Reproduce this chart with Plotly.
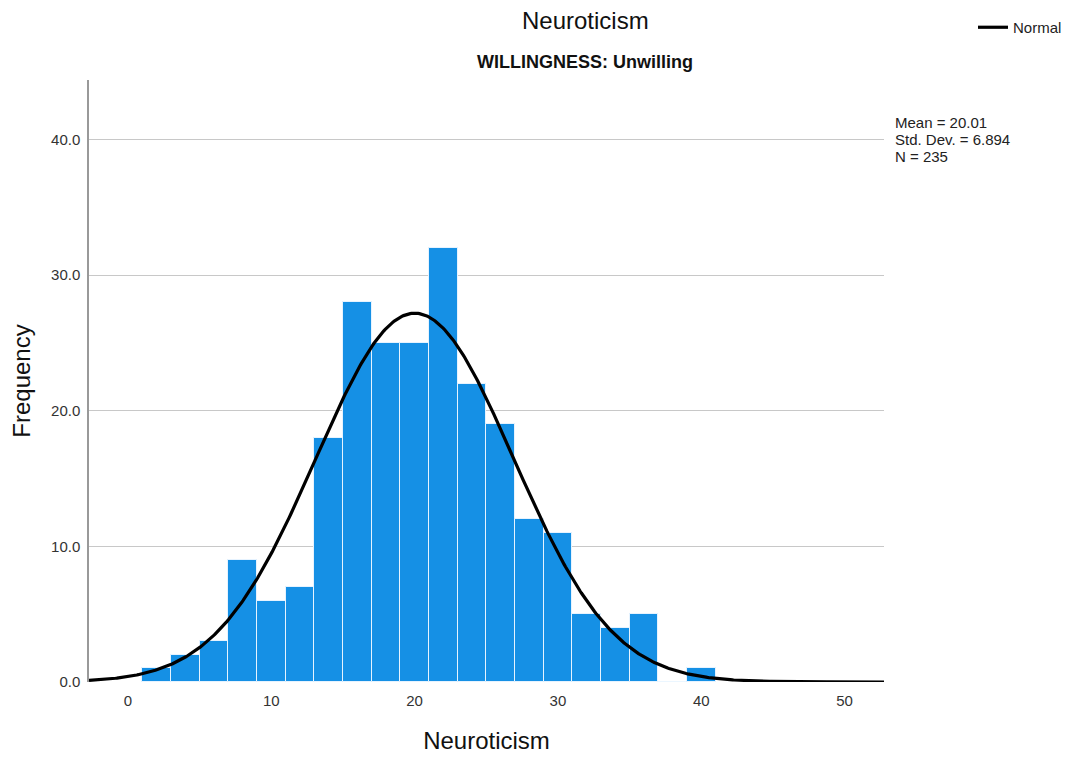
import numpy as np
import plotly.graph_objects as go

# Histogram data (bin width 2, bins start at 1)
bin_starts = [1, 3, 5, 7, 9, 11, 13, 15, 17, 19, 21, 23, 25, 27, 29, 31, 33, 35, 37, 39]
counts = [1, 2, 3, 9, 6, 7, 18, 28, 25, 25, 32, 22, 19, 12, 11, 5, 4, 5, 0, 1]
bin_width = 2

# Summary statistics
mean_val = 20.01
sd_val = 6.894
n_val = 235

x_ticks = [0, 10, 20, 30, 40, 50]
y_ticks = [0, 10, 20, 30, 40]
x_range = [-2.72, 52.75]
y_range = [0, 44.4]

centers = [s + bin_width / 2 for s in bin_starts]

xs = np.linspace(x_range[0], x_range[1], 600)
ys = n_val * bin_width / (sd_val * np.sqrt(2 * np.pi)) * np.exp(-0.5 * ((xs - mean_val) / sd_val) ** 2)

fig = go.Figure()
fig.add_trace(go.Bar(
    x=centers, y=counts, width=bin_width,
    marker=dict(color="#1590E5", line=dict(color="rgba(235,245,255,0.95)", width=1)),
    showlegend=False, name="Frequency",
))
fig.add_trace(go.Scatter(
    x=xs, y=ys, mode="lines", name="Normal",
    line=dict(color="black", width=3.2),
))

FONT = "Liberation Sans, Arial, sans-serif"
L, R, T, B = 89, 884, 80, 682
PW, PH = R - L, B - T


def px(x):
    return (x - L) / PW


def py(y):
    return (B - y) / PH


stats_lines = [f"Mean = {mean_val:.2f}", f"Std. Dev. = {sd_val:.3f}", f"N = {n_val}"]
stats_y = [122, 139, 156]

annotations = [
    dict(text="Neuroticism", x=px(585), y=py(20), xref="paper", yref="paper", showarrow=False,
         xanchor="center", yanchor="middle", font=dict(size=24, color="#111")),
    dict(text="<b>WILLINGNESS: Unwilling</b>", x=px(585), y=py(62), xref="paper", yref="paper",
         xanchor="center", yanchor="middle", showarrow=False, font=dict(size=18, color="#111")),
]
for txt, yy in zip(stats_lines, stats_y):
    annotations.append(dict(text=txt, x=px(893), y=py(yy), xref="paper", yref="paper",
                            xanchor="left", yanchor="middle", showarrow=False,
                            font=dict(size=15, color="#222")))

fig.update_layout(
    width=1070, height=766,
    margin=dict(l=L, r=1070 - R, t=T, b=766 - B, autoexpand=False),
    paper_bgcolor="white", plot_bgcolor="white",
    font=dict(family=FONT, color="#222"),
    bargap=0,
    showlegend=True,
    legend=dict(
        x=px(973), y=py(11), xanchor="left", yanchor="top",
        font=dict(size=15, family=FONT, color="#222"),
        bgcolor="rgba(0,0,0,0)", itemwidth=30,
    ),
    xaxis=dict(
        range=x_range, tickvals=x_ticks, ticktext=[str(v) for v in x_ticks],
        showgrid=False, zeroline=False, showline=False, ticks="",
        tickfont=dict(size=15, color="#333"), ticklabelstandoff=8,
        title=dict(text="Neuroticism", font=dict(size=24, color="#111"), standoff=24),
    ),
    yaxis=dict(
        range=y_range, tickvals=y_ticks, ticktext=[f"{v:.1f}" for v in y_ticks],
        showgrid=True, gridcolor="#c8c8c8", gridwidth=1,
        zeroline=False, showline=True, linecolor="#999", linewidth=1.5, ticks="",
        tickfont=dict(size=15, color="#333"), ticklabelstandoff=4,
        title=dict(text="Frequency", font=dict(size=24, color="#111"), standoff=14),
    ),
    annotations=annotations,
)

fig.write_html("out.html")
